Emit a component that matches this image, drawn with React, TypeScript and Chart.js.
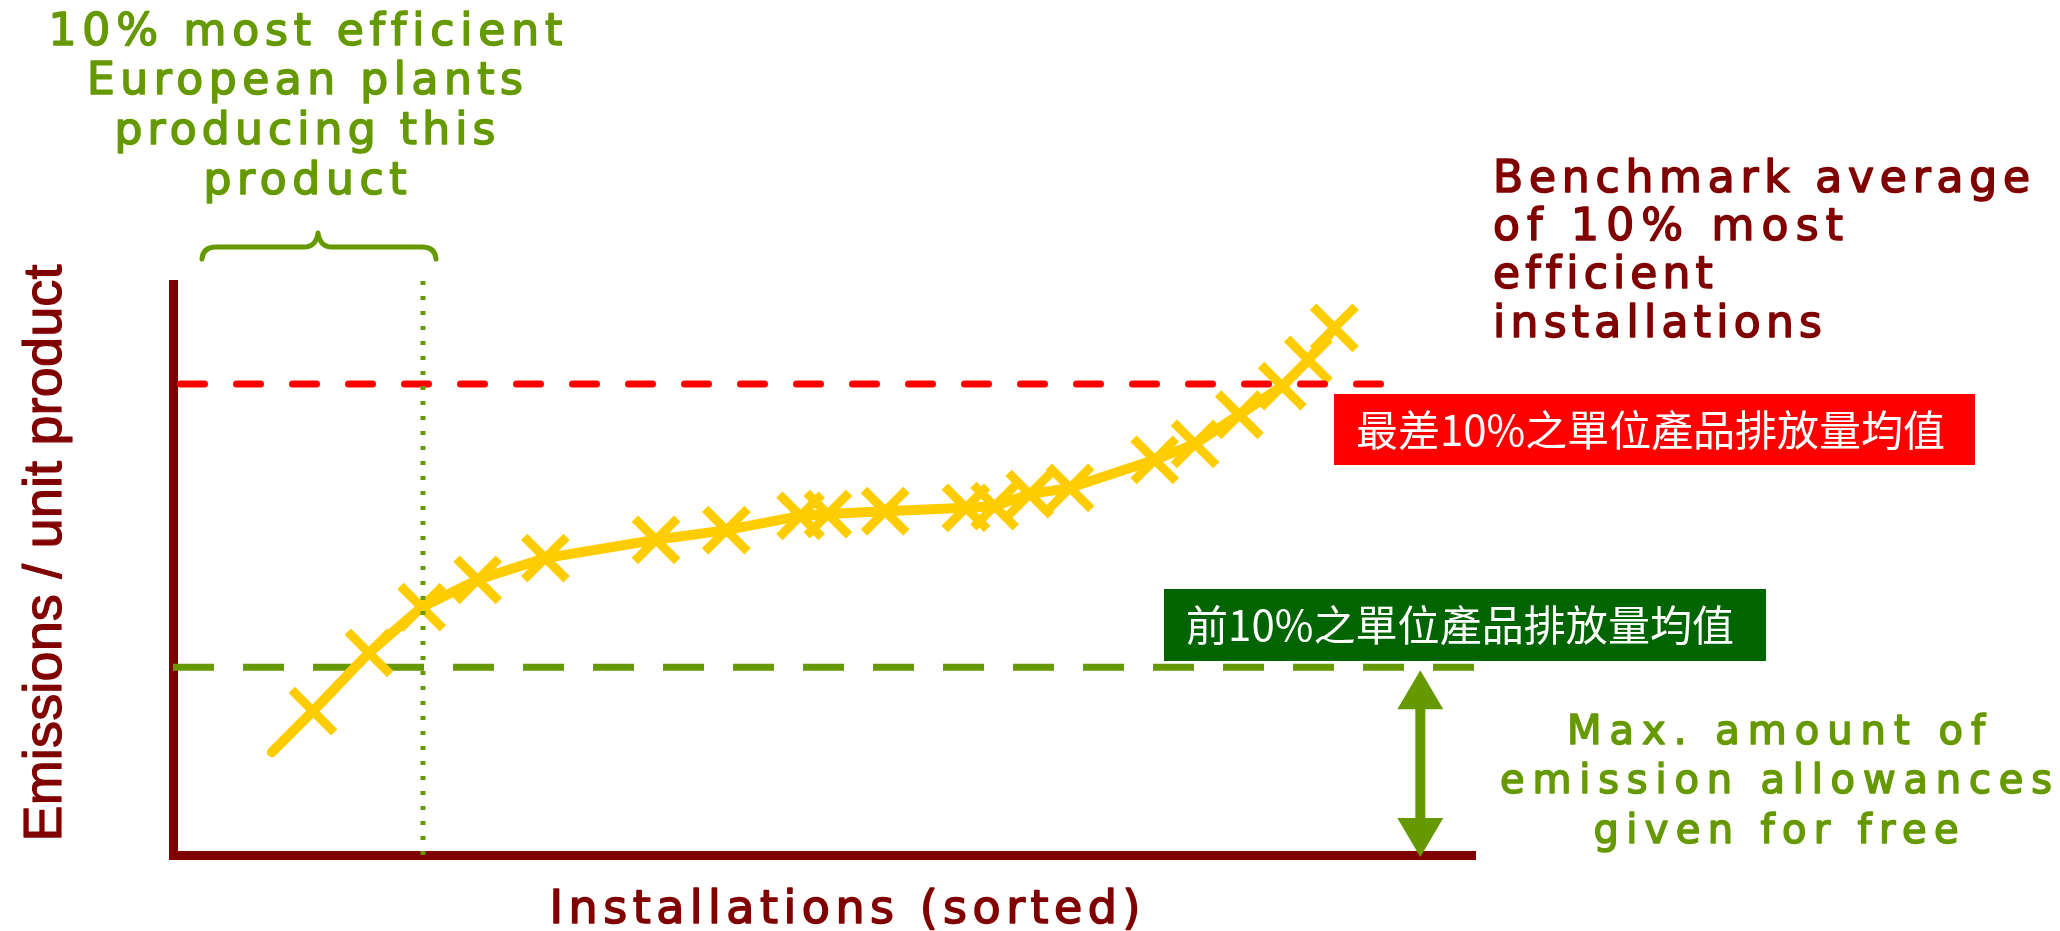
import { useEffect, useRef } from 'react';
import { Chart, registerables } from 'chart.js';

Chart.register(...registerables);

// Installations sorted by emissions per unit of product (x = rank %, y = emission intensity)
const installX = [7.6, 10.75, 15.05, 19.1, 23.4, 28.6, 37.1, 42.5, 48.2, 50.3, 54.7, 60.9, 63.1, 65.8, 68.9, 75.4, 78.5, 81.9, 85.2, 87.2, 89.2];
const installY = [18.0, 25.2, 35.4, 43.4, 48.2, 52.0, 55.2, 56.9, 59.4, 59.7, 60.2, 60.8, 61.1, 63.2, 64.3, 69.2, 72.0, 77.1, 82.1, 86.7, 92.3];

// Reference levels
const worstAvg = 82.5;
const worstLineEnd = 92.9;
const topAvg = 32.9;
const topShareX = 19.2;
const topShareLineTop = 101.4;
const allowanceX = 95.8;

// Text
const topGroupLabel = ['10% most efficient', 'European plants', 'producing this', 'product'];
const benchmarkLabel = ['Benchmark average', 'of 10% most', 'efficient', 'installations'];
const allowanceLabel = ['Max. amount of', 'emission allowances', 'given for free'];
const worstBoxLabel = '最差10%之單位產品排放量均值';
const topBoxLabel = '前10%之單位產品排放量均值';
const xTitle = 'Installations (sorted)';
const yTitle = 'Emissions / unit product';

const DARK_RED = '#800000';
const GREEN = '#669900';
const YELLOW = '#ffcc00';
const RED = '#ff0000';
const DARK_GREEN = '#006400';

// Draws text spread (or squeezed) to a given width; `weight` adds an outline of the same colour.
function spreadText(
  ctx: CanvasRenderingContext2D,
  text: string,
  x: number,
  y: number,
  font: string,
  width: number,
  align: 'left' | 'center',
  weight = 0
) {
  ctx.font = font;
  ctx.textAlign = 'left';
  const anyCtx = ctx as any;
  const hasSpacing = 'letterSpacing' in anyCtx;
  if (hasSpacing) anyCtx.letterSpacing = '0px';
  const natural = ctx.measureText(text).width;
  const n = Array.from(text).length;
  const left = align === 'center' ? x - width / 2 : x;
  const paint = (tx: number, ty: number) => {
    ctx.fillText(text, tx, ty);
    if (weight > 0) {
      ctx.lineWidth = weight;
      ctx.lineJoin = 'round';
      ctx.strokeStyle = ctx.fillStyle;
      ctx.strokeText(text, tx, ty);
    }
  };
  if (hasSpacing && n > 1) {
    const sp = (width - natural) / (n - 1);
    anyCtx.letterSpacing = `${sp}px`;
    paint(left, y);
    anyCtx.letterSpacing = '0px';
  } else {
    ctx.save();
    ctx.translate(left, y);
    ctx.scale(width / natural, 1);
    paint(0, 0);
    ctx.restore();
  }
}

const CAPTION_FONT = '44px "DejaVu Sans"';
const CAPTION_WEIGHT = 1.6;

const annotationPlugin = {
  id: 'benchmarkAnnotations',
  afterDraw(chart: any) {
    const ctx: CanvasRenderingContext2D = chart.ctx;
    const xs = chart.scales.x;
    const ys = chart.scales.y;
    ctx.save();
    ctx.textBaseline = 'alphabetic';

    // Brace over the most efficient group
    ctx.strokeStyle = GREEN;
    ctx.lineWidth = 5;
    ctx.lineCap = 'round';
    ctx.lineJoin = 'round';
    ctx.beginPath();
    ctx.moveTo(202, 259);
    ctx.quadraticCurveTo(203, 247, 216, 247);
    ctx.lineTo(304, 247);
    ctx.quadraticCurveTo(316, 247, 318, 233);
    ctx.quadraticCurveTo(320, 247, 332, 247);
    ctx.lineTo(422, 247);
    ctx.quadraticCurveTo(435, 247, 436, 259);
    ctx.stroke();

    // Group caption
    ctx.fillStyle = GREEN;
    const topBaselines = [45, 94, 144, 194];
    const topWidths = [513, 436, 381, 203];
    topGroupLabel.forEach((t, i) =>
      spreadText(ctx, t, 305, topBaselines[i], CAPTION_FONT, topWidths[i], 'center', CAPTION_WEIGHT)
    );

    // Benchmark caption
    ctx.fillStyle = DARK_RED;
    const bBaselines = [192, 240, 288, 337];
    const bWidths = [537, 350, 219, 329];
    benchmarkLabel.forEach((t, i) =>
      spreadText(ctx, t, 1493, bBaselines[i], CAPTION_FONT, bWidths[i], 'left', CAPTION_WEIGHT)
    );

    // Allowance caption
    ctx.fillStyle = GREEN;
    const aBaselines = [744, 793, 843];
    const aWidths = [418, 552, 365];
    allowanceLabel.forEach((t, i) =>
      spreadText(ctx, t, 1776, aBaselines[i], '40px "DejaVu Sans"', aWidths[i], 'center', CAPTION_WEIGHT)
    );

    // Axis titles
    ctx.fillStyle = DARK_RED;
    spreadText(ctx, xTitle, 845, 923, '46px "DejaVu Sans"', 591, 'center', CAPTION_WEIGHT);
    ctx.save();
    ctx.translate(61, 553);
    ctx.rotate(-Math.PI / 2);
    spreadText(ctx, yTitle, 0, 0, '54px "Liberation Sans"', 577, 'center', 1.2);
    ctx.restore();

    // Label boxes
    ctx.fillStyle = RED;
    ctx.fillRect(1334, 394, 641, 71);
    ctx.fillStyle = DARK_GREEN;
    ctx.fillRect(1164, 589, 602, 72);
    ctx.fillStyle = '#ffffff';
    ctx.textBaseline = 'middle';
    spreadText(ctx, worstBoxLabel, 1356, 430, '42px "Noto Sans CJK TC"', 589, 'left');
    spreadText(ctx, topBoxLabel, 1186, 625, '42px "Noto Sans CJK TC"', 548, 'left');
    ctx.textBaseline = 'alphabetic';

    // Double arrow: free allocation range (0 .. top 10% average)
    const ax = xs.getPixelForValue(allowanceX);
    const aTop = ys.getPixelForValue(topAvg) + 3;
    const aBot = ys.getPixelForValue(0) + 2;
    const head = 39;
    const half = 23;
    ctx.fillStyle = GREEN;
    ctx.fillRect(ax - 5, aTop + head - 2, 10, aBot - aTop - 2 * head + 4);
    ctx.beginPath();
    ctx.moveTo(ax, aTop);
    ctx.lineTo(ax + half, aTop + head);
    ctx.lineTo(ax - half, aTop + head);
    ctx.closePath();
    ctx.fill();
    ctx.beginPath();
    ctx.moveTo(ax, aBot);
    ctx.lineTo(ax + half, aBot - head);
    ctx.lineTo(ax - half, aBot - head);
    ctx.closePath();
    ctx.fill();

    ctx.restore();
  },
};

export default function App() {
  const canvasRef = useRef<HTMLCanvasElement | null>(null);

  useEffect(() => {
    const canvas = canvasRef.current;
    if (!canvas) return;

    const installations = installX.map((x, i) => ({ x, y: installY[i] }));

    const chart = new Chart(canvas, {
      type: 'line',
      data: {
        datasets: [
          {
            label: 'Top 10% boundary',
            data: [
              { x: topShareX, y: 0 },
              { x: topShareX, y: topShareLineTop },
            ],
            borderColor: GREEN,
            borderWidth: 5,
            borderDash: [4, 11],
            pointRadius: 0,
            clip: false as any,
          },
          {
            label: 'Worst 10% average',
            data: [
              { x: 0, y: worstAvg },
              { x: worstLineEnd, y: worstAvg },
            ],
            borderColor: RED,
            borderWidth: 7,
            borderDash: [24, 32],
            borderDashOffset: 48.5,
            borderCapStyle: 'round',
            pointRadius: 0,
          },
          {
            label: 'Installations',
            data: installations,
            borderColor: YELLOW,
            borderWidth: 10,
            borderJoinStyle: 'round',
            borderCapStyle: 'round',
            tension: 0,
            pointStyle: 'crossRot',
            pointRadius: (c: any) => (c.dataIndex === 0 ? 0 : 30),
            pointBorderWidth: 9,
            pointBorderColor: YELLOW,
            pointBackgroundColor: YELLOW,
          },
          {
            label: 'Top 10% average',
            data: [
              { x: 0, y: topAvg },
              { x: 100, y: topAvg },
            ],
            borderColor: GREEN,
            borderWidth: 7,
            borderDash: [41, 29],
            pointRadius: 0,
          },
        ],
      },
      options: {
        animation: false,
        responsive: false,
        devicePixelRatio: 1,
        layout: { padding: { left: 173, top: 284, right: 585, bottom: 76 } },
        plugins: {
          legend: { display: false },
          tooltip: { enabled: false },
          title: { display: false },
        },
        scales: {
          x: {
            type: 'linear',
            min: 0,
            max: 100,
            grid: { display: false, drawTicks: false },
            ticks: { display: false },
            border: { display: true, color: DARK_RED, width: 9 },
            afterFit: (s: any) => {
              s.height = 0;
            },
          },
          y: {
            type: 'linear',
            min: 0,
            max: 100,
            grid: { display: false, drawTicks: false },
            ticks: { display: false },
            border: { display: true, color: DARK_RED, width: 9 },
            afterFit: (s: any) => {
              s.width = 0;
            },
          },
        },
      },
      plugins: [annotationPlugin],
    });

    return () => chart.destroy();
  }, []);

  return (
    <div style={{ position: 'fixed', left: 0, top: 0, width: 2060, height: 931, background: '#ffffff' }}>
      <canvas ref={canvasRef} width={2060} height={931} />
    </div>
  );
}
